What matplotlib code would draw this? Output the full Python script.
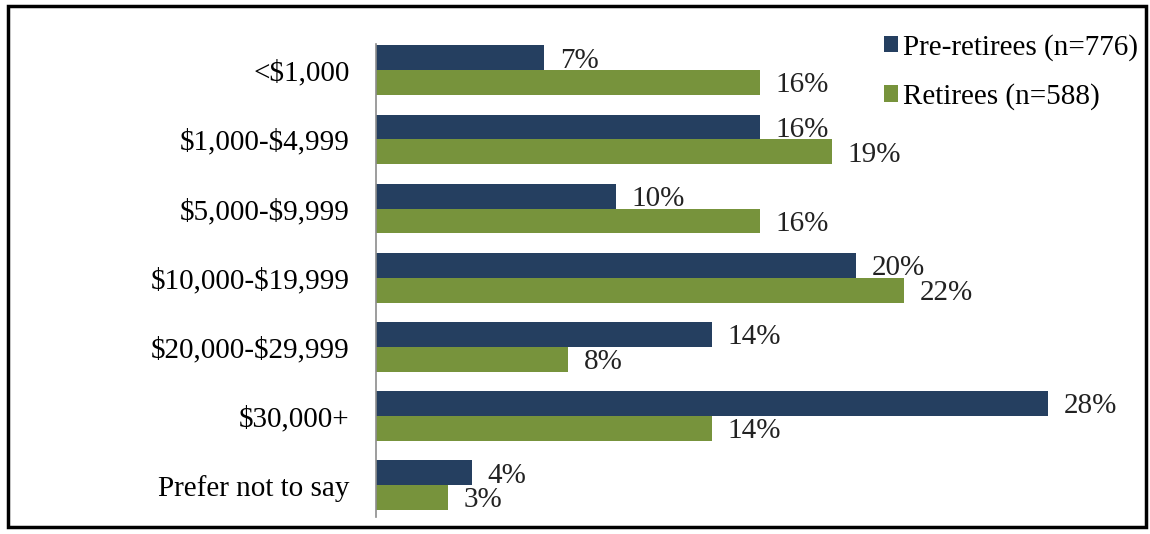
import matplotlib.pyplot as plt
import numpy as np
from matplotlib.patches import Rectangle

categories = ["<$1,000", "$1,000-$4,999", "$5,000-$9,999", "$10,000-$19,999",
              "$20,000-$29,999", "$30,000+", "Prefer not to say"]
pre_retirees = [7, 16, 10, 20, 14, 28, 4]
retirees = [16, 19, 16, 22, 8, 14, 3]
series_names = ["Pre-retirees (n=776)", "Retirees (n=588)"]

navy = "#253F60"
green = "#77933C"

plt.rcParams["font.family"] = ["Liberation Serif", "DejaVu Serif"]
plt.rcParams["text.parse_math"] = False

fig = plt.figure(figsize=(11.5, 5.34), dpi=100)
ax = fig.add_axes([0.327, 0.0318, 0.6557, 0.8858])

y = np.arange(len(categories))
h = 0.36
b1 = ax.barh(y - h / 2, pre_retirees, height=h, color=navy, label=series_names[0])
b2 = ax.barh(y + h / 2, retirees, height=h, color=green, label=series_names[1])

# value labels just right of each bar
for bars, vals in [(b1, pre_retirees), (b2, retirees)]:
    for bar, v in zip(bars, vals):
        ax.text(bar.get_width() + 0.65, bar.get_y() + bar.get_height() / 2 + 0.04,
                f"{v}%", va="center", ha="left", fontsize=21, color="#222222")

ax.set_xlim(0, 31.42)
ax.set_ylim(6.46, -0.38)
ax.set_yticks(y)
ax.set_yticklabels(categories, fontsize=21)
ax.tick_params(axis="y", length=0, pad=19)
ax.set_xticks([])
for s in ["top", "right", "bottom"]:
    ax.spines[s].set_visible(False)
ax.spines["left"].set_color("#8c8c8c")
ax.spines["left"].set_linewidth(1.2)

ax.legend(loc="upper right", bbox_to_anchor=(1.012, 0.986), bbox_transform=fig.transFigure,
          frameon=False, fontsize=21, handlelength=0.5, handleheight=0.5,
          handletextpad=0.15, labelspacing=0.78)

# frame around the whole chart
fig.patches.append(Rectangle((8 / 1150, 1 - 527 / 534), 1138 / 1150, 521 / 534,
                             transform=fig.transFigure, fill=False,
                             edgecolor="black", linewidth=2.5))

fig.savefig("out.png", dpi=100)
